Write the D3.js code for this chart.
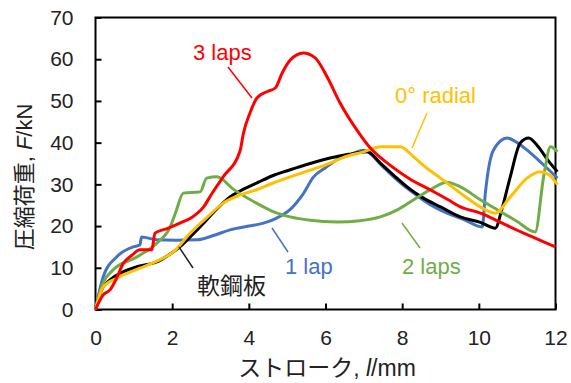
<!DOCTYPE html>
<html>
<head>
<meta charset="utf-8">
<script src="https://cdn.jsdelivr.net/npm/d3@7"></script>
<style>
  body { margin: 0; background: #fff; }
  svg text { font-family: "Liberation Sans", Arial, "Noto Sans CJK JP", sans-serif; }
</style>
</head>
<body>
<div class="container"></div>
<script>
// stroke (mm) vs load (kN)
const mildSteel = [[0,0],[0.15,4.5],[0.38,7.1],[0.72,9],[1.1,10.3],[1.6,11.4],[1.9,13],[2.2,15],[2.47,17.4],[2.8,20.5],[3.1,23.5],[3.51,27],[3.85,28.8],[4.2,30.3],[4.6,32],[5.08,33.5],[5.6,35],[6.12,36.3],[6.6,37.2],[7.09,37.8],[7.43,35.1],[7.8,32],[8.13,29.4],[8.5,27],[9,24.6],[9.52,22.2],[10.04,20.9],[10.43,19.5],[10.6,24],[10.82,31.8],[11.08,39.9],[11.3,41.1],[11.55,39],[11.8,35.8],[12.05,33]];
const oneLap = [[0,0],[0.2,7.8],[0.55,12.6],[0.98,15],[1.16,15.5],[1.2,17.4],[1.6,16.7],[2.1,16.6],[2.65,16.7],[3.1,17.8],[3.51,19.1],[4,20],[4.38,20.7],[4.7,21.8],[5.08,24],[5.4,27.5],[5.69,31.8],[6,34],[6.3,35.9],[6.7,37.3],[7,38.2],[7.5,34.2],[7.9,30.8],[8.3,27.9],[8.7,25.3],[9.17,23.1],[9.6,21.6],[10.09,19.8],[10.17,27.9],[10.38,38.2],[10.74,41.1],[11,40],[11.26,38.2],[11.65,35],[12.05,31.5]];
const twoLaps = [[0,0],[0.2,6.4],[0.46,9.5],[1.08,12.6],[1.6,15.9],[1.95,19.8],[2.1,23.5],[2.29,27.9],[2.73,28.2],[2.9,31.5],[3.17,31.8],[3.6,28.8],[4.2,25.5],[4.6,23.6],[5.08,22.2],[5.6,21.4],[6.3,21],[6.9,21.3],[7.43,22.2],[7.9,24],[8.3,26.3],[8.73,28.7],[9.17,30.5],[9.52,29.4],[10.04,26.3],[10.5,23.8],[11,21.1],[11.47,18.6],[11.69,31.8],[11.87,39],[12.05,37.8]];
const threeLaps = [[0,0],[0.2,3.5],[0.38,4.7],[0.55,7.5],[0.72,11],[0.95,13],[1.16,14.3],[1.47,14.3],[1.55,18.3],[1.9,19.5],[2.2,20.7],[2.5,22],[2.82,24.6],[3.05,28],[3.33,31.8],[3.77,38],[3.86,42.3],[4.03,47.1],[4.21,50.7],[4.47,52.2],[4.69,53.1],[4.87,56.7],[5.08,59.8],[5.42,61.5],[5.73,60.3],[6.04,55.8],[6.38,49.5],[6.82,43],[7.17,38.7],[7.7,34.5],[8.2,31.3],[8.73,28.7],[9.2,26.3],[9.52,24.6],[10.04,23.1],[10.5,21.2],[11,19],[11.5,17],[12,15]];
const radial = [[0,0],[0.2,5.4],[0.55,7.5],[1.16,9.9],[1.6,11.6],[2.03,13.8],[2.47,18.3],[2.9,22],[3.33,25.5],[3.7,27.2],[4.2,28.7],[4.6,30.2],[5.08,31.8],[5.6,33.4],[6.12,35.1],[6.5,36.6],[7,37.8],[7.43,39],[7.95,39],[8.3,36.6],[8.6,34.2],[9,31.5],[9.52,27.9],[10.04,24.6],[10.43,23.1],[10.82,27],[11.26,31.5],[11.6,33],[11.85,32.2],[12.05,29.9]];

const xTicks = [0, 2, 4, 6, 8, 10, 12];
const yTicks = [0, 10, 20, 30, 40, 50, 60, 70];

const width = 571;
const height = 383;

const svg = d3.select(".container")
              .append("svg")
              .attr("width", width)
              .attr("height", height);

const x = d3.scaleLinear().domain([0, 12]).range([95.5, 555.5]);
const y = d3.scaleLinear().domain([0, 70]).range([309.5, 17.5]);

// axes, ticks point into the plot
const xAxis = d3.axisBottom(x).tickValues(xTicks).tickSizeInner(-6).tickSizeOuter(0).tickPadding(21);
const yAxis = d3.axisLeft(y).tickValues(yTicks).tickSizeInner(-6).tickSizeOuter(0).tickPadding(22);

const gx = svg.append("g").attr("transform", "translate(0," + y(0) + ")").call(xAxis);
const gy = svg.append("g").attr("transform", "translate(" + x(0) + ",0)").call(yAxis);
[gx, gy].forEach(g => {
  g.select(".domain").remove();
  g.selectAll(".tick line").attr("stroke", "#000").attr("stroke-width", 2);
  g.selectAll(".tick text").attr("font-size", 21).attr("fill", "#222");
});

// frame round the plot
svg.append("rect")
   .attr("x", x(0)).attr("y", y(70))
   .attr("width", x(12) - x(0)).attr("height", y(0) - y(70))
   .attr("fill", "none").attr("stroke", "#000").attr("stroke-width", 2);

const line = d3.line()
               .x(d => x(d[0]))
               .y(d => y(d[1]))
               .curve(d3.curveMonotoneX);

const series = [
  { data: oneLap, color: "#4472C4" },
  { data: mildSteel, color: "#000000" },
  { data: twoLaps, color: "#70AD47" },
  { data: radial, color: "#FFC000" },
  { data: threeLaps, color: "#FF0000" }
];

svg.append("g")
   .selectAll("path")
   .data(series)
   .enter()
   .append("path")
   .attr("d", d => line(d.data))
   .attr("fill", "none")
   .attr("stroke", d => d.color)
   .attr("stroke-width", 3)
   .attr("stroke-linejoin", "round");

// labels with leader lines
const labels = [
  { text: "3 laps", color: "#FF0000", tx: 193, ty: 60, l: [228, 67, 252, 98], size: 22 },
  { text: "0° radial", color: "#FFC000", tx: 395, ty: 103, l: [427, 113, 412, 148], size: 22 },
  { text: "1 lap", color: "#4472C4", tx: 285, ty: 274, l: [272, 228, 288, 252], size: 22 },
  { text: "2 laps", color: "#70AD47", tx: 402, ty: 274, l: [402, 223, 420, 248], size: 22 },
  { text: "軟鋼板", color: "#222", tx: 197, ty: 294, l: [179, 247, 193, 268], size: 23 }
];

labels.forEach(lb => {
  svg.append("line")
     .attr("x1", lb.l[0]).attr("y1", lb.l[1])
     .attr("x2", lb.l[2]).attr("y2", lb.l[3])
     .attr("stroke", lb.color).attr("stroke-width", 1.5);
  svg.append("text")
     .attr("x", lb.tx).attr("y", lb.ty)
     .attr("font-size", lb.size)
     .attr("fill", lb.color)
     .text(lb.text);
});

// axis titles
const xTitle = svg.append("text")
   .attr("x", 327).attr("y", 376)
   .attr("text-anchor", "middle")
   .attr("font-size", 23)
   .attr("fill", "#222");
xTitle.append("tspan").text("ストローク, ");
xTitle.append("tspan").attr("font-style", "italic").text("l");
xTitle.append("tspan").text("/mm");

const yTitle = svg.append("text")
   .attr("transform", "translate(32,177) rotate(-90)")
   .attr("text-anchor", "middle")
   .attr("font-size", 22)
   .attr("fill", "#222");
yTitle.append("tspan").text("圧縮荷重, ");
yTitle.append("tspan").attr("font-style", "italic").text("F");
yTitle.append("tspan").text("/kN");
</script>
</body>
</html>
